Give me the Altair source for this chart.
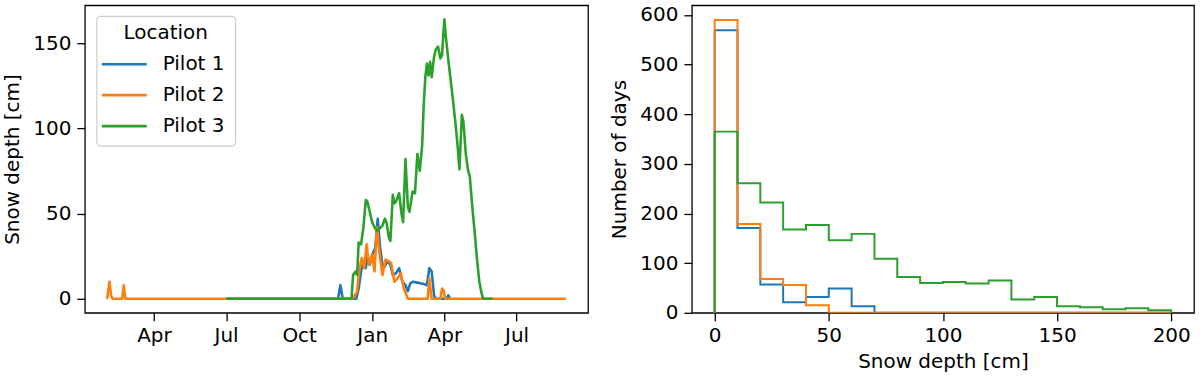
import altair as alt
import pandas as pd

# ---------------- data ----------------
pilots = ["Pilot 1", "Pilot 2", "Pilot 3"]
colors = ["#1f77b4", "#ff7f0e", "#2ca02c"]
legend_title = "Location"

p1_dates = ["2019-07-01", "2019-11-19", "2019-11-22", "2019-11-25", "2019-12-12", "2019-12-15",
            "2019-12-18", "2019-12-21", "2019-12-24", "2019-12-26", "2019-12-29", "2020-01-02",
            "2020-01-05", "2020-01-08", "2020-01-11", "2020-01-14", "2020-01-17", "2020-01-20",
            "2020-01-24", "2020-01-27", "2020-01-31", "2020-02-04", "2020-02-08", "2020-02-12",
            "2020-02-15", "2020-02-18", "2020-02-21", "2020-02-27", "2020-03-03", "2020-03-07",
            "2020-03-10", "2020-03-13", "2020-03-16", "2020-03-19", "2020-03-21", "2020-04-04",
            "2020-04-06", "2020-04-08"]
p1_depth = [0, 0, 8, 0, 0, 6,
            16, 22, 18, 25, 20, 27,
            30, 47, 30, 20, 19, 22,
            20, 14, 15, 18, 10, 8,
            4.5, 9, 10, 9.5, 9, 8.5,
            8, 18, 16, 2, 0, 0,
            2, 0]

p2_dates = ["2019-02-01", "2019-02-04", "2019-02-06", "2019-02-08", "2019-02-20", "2019-02-22",
            "2019-02-24", "2019-12-07", "2019-12-10", "2019-12-13", "2019-12-16", "2019-12-19",
            "2019-12-22", "2019-12-25", "2019-12-28", "2020-01-01", "2020-01-04", "2020-01-07",
            "2020-01-10", "2020-01-14", "2020-01-18", "2020-01-22", "2020-01-25", "2020-01-29",
            "2020-02-02", "2020-02-06", "2020-02-10", "2020-02-15", "2020-03-11", "2020-03-13",
            "2020-03-16", "2020-03-27", "2020-03-29", "2020-03-31", "2020-04-02", "2020-09-01"]
p2_depth = [0, 10, 2, 0, 0, 8,
            0, 0, 2, 4, 18, 24,
            18, 32, 20, 26, 16, 42,
            28, 14, 23, 22, 21, 10,
            12, 15, 6, 0, 0, 12,
            0, 0, 6, 5, 0, 0]

p3_dates = ["2019-07-01", "2019-12-06", "2019-12-08", "2019-12-11", "2019-12-13", "2019-12-15",
            "2019-12-18", "2019-12-21", "2019-12-24", "2019-12-26", "2019-12-28", "2020-01-01",
            "2020-01-04", "2020-01-07", "2020-01-10", "2020-01-14", "2020-01-17", "2020-01-19",
            "2020-01-22", "2020-01-24", "2020-01-27", "2020-01-29", "2020-01-31", "2020-02-04",
            "2020-02-07", "2020-02-09", "2020-02-12", "2020-02-15", "2020-02-17", "2020-02-21",
            "2020-02-24", "2020-02-27", "2020-03-01", "2020-03-04", "2020-03-06", "2020-03-08",
            "2020-03-10", "2020-03-12", "2020-03-14", "2020-03-16", "2020-03-19", "2020-03-21",
            "2020-03-24", "2020-03-27", "2020-03-29", "2020-04-01", "2020-04-03", "2020-04-06",
            "2020-04-09", "2020-04-12", "2020-04-15", "2020-04-18", "2020-04-20", "2020-04-23",
            "2020-04-25", "2020-04-28", "2020-05-01", "2020-05-03", "2020-05-06", "2020-05-09",
            "2020-05-12", "2020-05-15", "2020-05-18", "2020-05-20", "2020-06-01"]
p3_depth = [0, 0, 14, 16, 14, 33,
            32, 42, 58, 57, 53, 45,
            42, 40, 41, 43, 47, 45,
            36, 34, 61, 56, 57, 62,
            50, 45, 82, 54, 51, 63,
            62, 85, 75, 90, 114, 130,
            138, 131, 139, 130, 142, 146,
            148, 141, 143, 164, 153, 140,
            128, 116, 103, 88, 76, 108,
            104, 85, 75, 72, 55, 40,
            24, 10, 3, 0, 0]

time_ticks = ["2019-04-01", "2019-07-01", "2019-10-01", "2020-01-01", "2020-04-01", "2020-07-01"]
time_domain = ["2019-01-04", "2020-09-29"]
depth_ticks = [0, 50, 100, 150]

bin_edges = [0, 10, 20, 30, 40, 50, 60, 70, 80, 90, 100,
             110, 120, 130, 140, 150, 160, 170, 180, 190, 200]
p1_counts = [569, 171, 57, 21, 32, 49, 13, 0, 0, 0, 0, 0, 0, 0, 0, 0, 0, 0, 0, 0]
p2_counts = [590, 179, 68, 56, 15, 0, 0, 0, 0, 0, 0, 0, 0, 0, 0, 0, 0, 0, 0, 0]
p3_counts = [365, 261, 222, 168, 177, 146, 159, 109, 72, 60, 62, 59, 65, 27, 32, 13, 11, 7, 9, 5]
hist_x_ticks = [0, 50, 100, 150, 200]
hist_y_ticks = [0, 100, 200, 300, 400, 500, 600]

# ---------------- tables ----------------
def to_dt(s):
    y, m, d = (int(v) for v in s.split("-"))
    return alt.DateTime(year=y, month=m, date=d, utc=True)

rows = []
for name, ds, vs in zip(pilots, [p1_dates, p2_dates, p3_dates], [p1_depth, p2_depth, p3_depth]):
    for d, v in zip(ds, vs):
        rows.append({"date": d, "depth": v, "Location": name})
ts_df = pd.DataFrame(rows)

hrows = []
for name, counts in zip(pilots, [p1_counts, p2_counts, p3_counts]):
    pts = [(bin_edges[0], 0)]
    pts += [(bin_edges[i], counts[i]) for i in range(len(counts))]
    pts += [(bin_edges[-1], counts[-1]), (bin_edges[-1], 0)]
    for k, (x, y) in enumerate(pts):
        hrows.append({"edge": x, "count": y, "Location": name, "k": k})
hist_df = pd.DataFrame(hrows)

legend_df = pd.DataFrame({"Location": pilots})
legend_title_df = pd.DataFrame({"title": [legend_title]})

color_scale = alt.Scale(domain=pilots, range=colors)
FONT = "DejaVu Sans"

lines = alt.Chart(ts_df).mark_line(strokeWidth=2.6, strokeJoin="round", clip=True).encode(
    x=alt.X("date:T",
            scale=alt.Scale(type="utc", domain=[to_dt(s) for s in time_domain]),
            axis=alt.Axis(values=[to_dt(s) for s in time_ticks],
                          labelExpr="utcFormat(datum.value, '%b')",
                          title=None, labelFlush=False)),
    y=alt.Y("depth:Q", scale=alt.Scale(domain=[-8.2, 172.2], nice=False, zero=False),
            axis=alt.Axis(values=depth_ticks, title="Snow depth [cm]")),
    color=alt.Color("Location:N", scale=color_scale, legend=None),
)

# legend (drawn inside the plot, top left, like matplotlib's)
leg_box = alt.Chart(legend_title_df).mark_rect(
    fill="white", stroke="#cccccc", strokeWidth=1.2, cornerRadius=4, opacity=1
).encode(x=alt.value(12), x2=alt.value(151), y=alt.value(11), y2=alt.value(141))

leg_title = alt.Chart(legend_title_df).mark_text(
    font=FONT, fontSize=20, fontWeight="normal", color="black",
    align="center", baseline="middle"
).encode(x=alt.value(81), y=alt.value(28), text="title:N")

leg_y = alt.Y("Location:N", scale=alt.Scale(type="point", domain=pilots, range=[59, 121], padding=0),
              axis=None)
leg_sym = alt.Chart(legend_df).mark_rule(strokeWidth=2.6).encode(
    x=alt.value(17), x2=alt.value(62), y=leg_y,
    color=alt.Color("Location:N", scale=color_scale, legend=None),
)
leg_lab = alt.Chart(legend_df).mark_text(
    font=FONT, fontSize=20, fontWeight="normal", color="black", align="left", baseline="middle"
).encode(x=alt.value(78), y=leg_y, text="Location:N")

left = alt.layer(lines, leg_box, leg_title, leg_sym, leg_lab).resolve_scale(
    y="independent"
).properties(width=504, height=308)

right = alt.Chart(hist_df).mark_line(strokeWidth=2, interpolate="step-after", clip=True).encode(
    x=alt.X("edge:Q", scale=alt.Scale(domain=[-10, 210], nice=False, zero=False),
            axis=alt.Axis(values=hist_x_ticks, title="Snow depth [cm]")),
    y=alt.Y("count:Q", scale=alt.Scale(domain=[0, 619.5], nice=False),
            axis=alt.Axis(values=hist_y_ticks, title="Number of days")),
    color=alt.Color("Location:N", scale=color_scale, legend=None),
    order=alt.Order("k:Q"),
).properties(width=503, height=308)

chart = alt.hconcat(left, right, spacing=20).resolve_scale(color="shared").properties(
    padding={"left": 2, "top": 4, "right": 5, "bottom": 5}
).configure_view(stroke="black", strokeWidth=1.3).configure_axis(
    labelFont=FONT, titleFont=FONT, labelFontSize=20, titleFontSize=20,
    titleFontWeight="normal", labelColor="black", titleColor="black",
    tickColor="black", tickSize=8, tickWidth=1.3, domain=False, grid=False,
    labelPadding=6, titlePadding=10,
).configure_axisX(labelPadding=5, titlePadding=6)

chart.save("out.html", embed_options={"renderer": "svg", "actions": False})
